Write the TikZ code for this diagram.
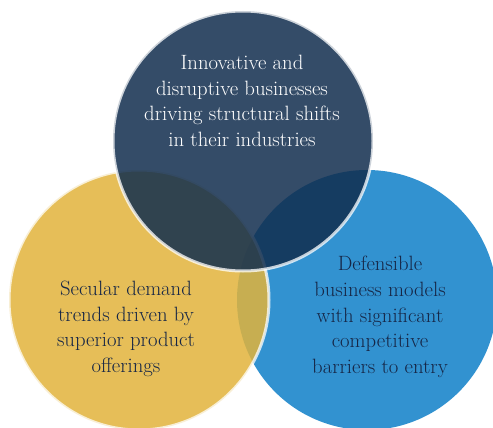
\documentclass[tikz,border=0pt]{standalone}
\definecolor{topnavy}{RGB}{17,45,78}
\definecolor{leftgold}{RGB}{226,179,59}
\definecolor{rightblue}{RGB}{50,146,208}
\definecolor{inktext}{RGB}{22,38,70}
\tikzset{
  venn/.style={circle, minimum size=260pt, inner sep=0pt},
  rim/.style={draw=white, draw opacity=0.75, line width=3pt},
  caption/.style={align=center, font=\fontsize{20.7}{25.7}\selectfont}
}

\begin{document}
\begin{tikzpicture}[x=1pt, y=-1pt]
  \useasboundingbox (0,0) rectangle (493,428);
  \begin{scope}
    \clip (0,0) rectangle (493,428);
    \node[venn, fill=rightblue] (blue) at (367,300) {};
    \node[venn, fill=leftgold, fill opacity=0.85, rim] (gold) at (139,300) {};
    \node[venn, fill=topnavy, fill opacity=0.85, rim] (navy) at (243,141) {};
  \end{scope}
  \node[caption, text=white] (innov) at (242,101)
    {Innovative and\\disruptive businesses\\driving structural shifts\\in their industries};
  \node[caption, text=inktext] (secular) at (126,329)
    {Secular demand\\trends driven by\\superior product\\offerings};
  \node[caption, text=inktext] (defens) at (380,317)
    {Defensible\\business models\\with significant\\competitive\\barriers to entry};
\end{tikzpicture}
\end{document}
